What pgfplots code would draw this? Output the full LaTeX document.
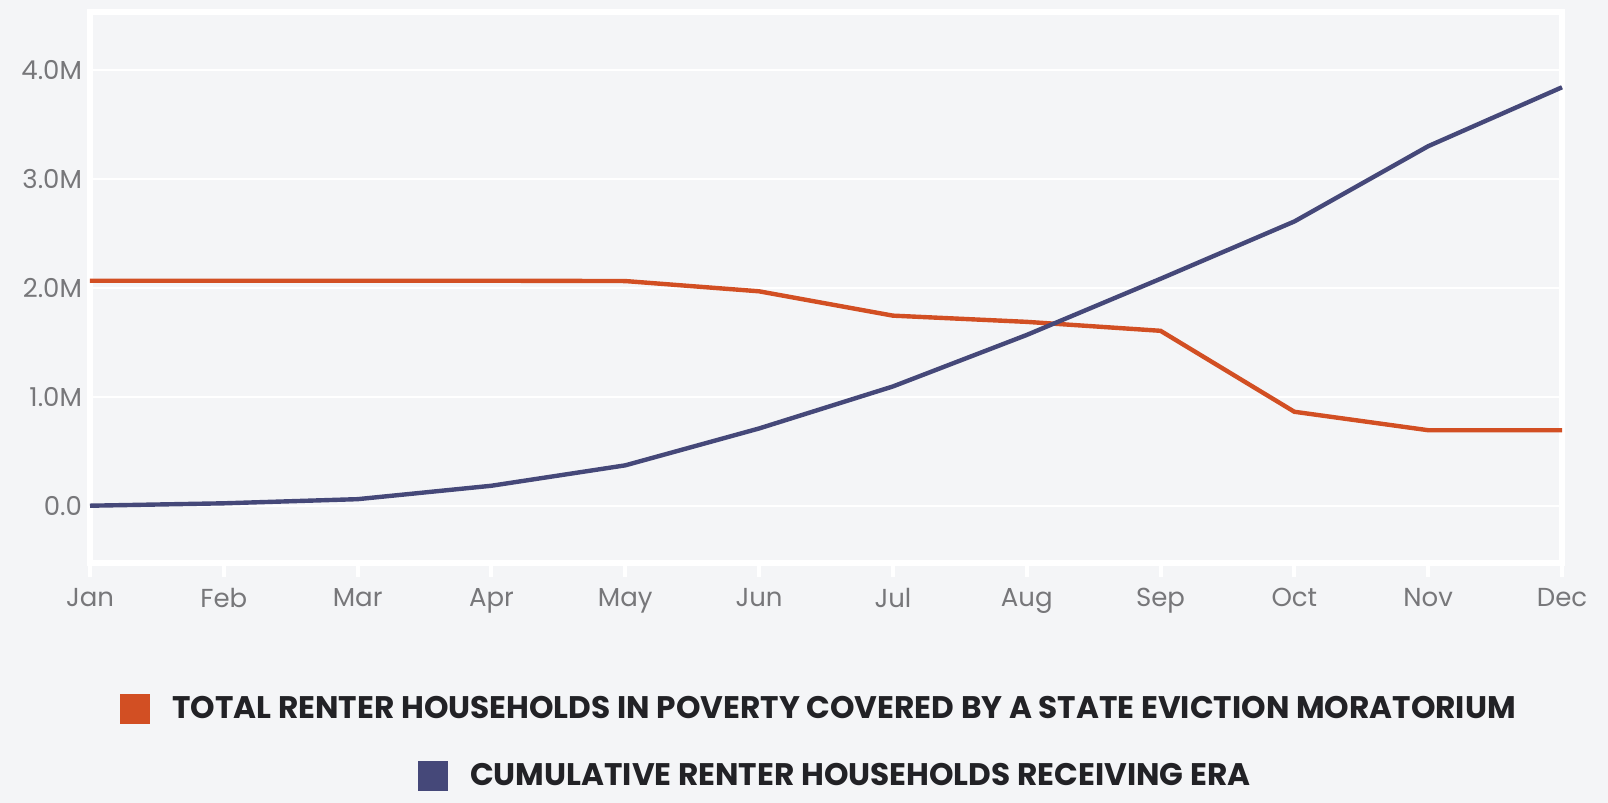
\documentclass[border=0pt]{standalone}
\usepackage{pgfplots}
\pgfplotsset{compat=1.18}
\usepackage{fontspec}
\setmainfont{Poppins}
\definecolor{bgc}{HTML}{F4F5F7}
\definecolor{orangec}{HTML}{D24F23}
\definecolor{navyc}{HTML}{454879}
\definecolor{tickc}{HTML}{77777A}
\definecolor{legc}{HTML}{222226}
\begin{document}
\begin{tikzpicture}
\fill[bgc] (0,0) rectangle (804pt,401.5pt);
\useasboundingbox (0,0) rectangle (804pt,401.5pt);
\pgfplotsset{
  base/.style={
    at={(45pt,120pt)}, anchor=south west,
    scale only axis, width=736pt, height=275.5pt,
    xmin=0, xmax=11, ymin=-0.52, ymax=4.53,
    clip=false,
  },
  sqlegend/.style={
    legend image code/.code={\fill[##1,draw=none] (0pt,-7.5pt) rectangle (15pt,7.5pt);},
  },
}
\begin{axis}[base,
  axis line style={white, line width=3pt},
  xtick={0,...,11},
  xticklabels={Jan,Feb,Mar,Apr,May,Jun,Jul,Aug,Sep,Oct,Nov,Dec},
  ytick={0,1,2,3,4},
  yticklabels={0.0,1.0M,2.0M,3.0M,4.0M},
  ymajorgrids, grid style={white, line width=1pt},
  tick align=outside, major tick length=7pt,
  xtick style={white, line width=2pt},
  ytick style={draw=none},
  xtick pos=bottom, ytick pos=left,
  /pgf/number format/assume math mode=true,
  tick label style={font=\fontsize{13}{15}\selectfont, text=tickc},
  xticklabel style={yshift=-2pt},
  yticklabel style={xshift=6.5pt},
  sqlegend,
  legend style={draw=none, fill=none, at={(axis description cs:0.496,-0.265)}, anchor=center,
    font=\fontsize{15.6}{18}\selectfont\bfseries, text=legc,
    /tikz/every odd column/.append style={column sep=9pt}},
]
\addplot[orangec, line width=2.2pt] coordinates {
(0,2.067) (1,2.067) (2,2.067) (3,2.067) (4,2.064) (5,1.97) (6,1.747) (7,1.69) (8,1.608) (9,0.866) (10,0.697) (11,0.697)
};
\addlegendentry{TOTAL RENTER HOUSEHOLDS IN POVERTY COVERED BY A STATE EVICTION MORATORIUM}
\end{axis}
\begin{axis}[base, hide axis,
  sqlegend,
  legend style={draw=none, fill=none, at={(axis description cs:0.507,-0.387)}, anchor=center,
    font=\fontsize{15.6}{18}\selectfont\bfseries, text=legc,
    /tikz/every odd column/.append style={column sep=9pt}},
]
\addplot[navyc, line width=2.2pt] coordinates {
(0,0.005) (1,0.027) (2,0.065) (3,0.188) (4,0.375) (5,0.713) (6,1.098) (7,1.57) (8,2.085) (9,2.61) (10,3.30) (11,3.84)
};
\addlegendentry{CUMULATIVE RENTER HOUSEHOLDS RECEIVING ERA}
\end{axis}
\end{tikzpicture}
\end{document}
